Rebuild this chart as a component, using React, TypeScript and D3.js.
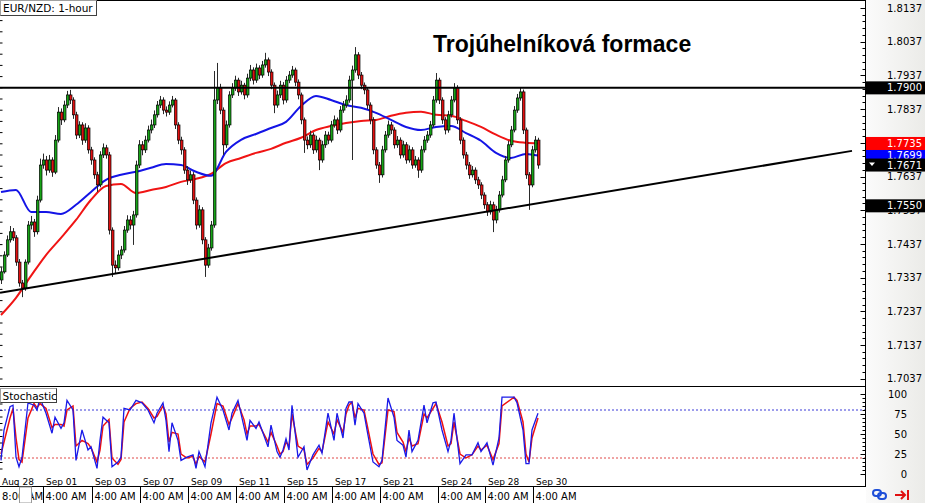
import React from "react";
import * as d3 from "d3";

// ---------- DATA ----------
const firstOpen = 1.733;
const closes = [
  1.7354,1.7404,1.7449,1.7473,1.7455,1.7383,1.7321,1.7306,1.7383,1.7493,
  1.7502,1.7473,1.7567,1.7671,1.7686,1.7656,1.7686,1.7650,1.7745,1.7828,
  1.7805,1.7849,1.7879,1.7864,1.7820,1.7760,1.7790,1.7745,1.7781,1.7716,
  1.7686,1.7642,1.7612,1.7701,1.7722,1.7701,1.7478,1.7374,1.7366,1.7404,
  1.7419,1.7478,1.7508,1.7493,1.7523,1.7671,1.7731,1.7716,1.7745,1.7775,
  1.7790,1.7820,1.7849,1.7864,1.7834,1.7828,1.7849,1.7864,1.7790,1.7745,
  1.7716,1.7656,1.7627,1.7642,1.7567,1.7493,1.7538,1.7449,1.7374,1.7425,
  1.7493,1.7864,1.7900,1.7834,1.7731,1.7790,1.7879,1.7900,1.7923,1.7888,
  1.7908,1.7879,1.7929,1.7953,1.7923,1.7959,1.7938,1.7968,1.7983,1.7947,
  1.7908,1.7849,1.7879,1.7908,1.7864,1.7923,1.7938,1.7953,1.7917,1.7879,
  1.7805,1.7745,1.7731,1.7760,1.7716,1.7745,1.7686,1.7731,1.7760,1.7745,
  1.7790,1.7805,1.7775,1.7834,1.7849,1.7864,1.7923,1.7953,1.7998,1.7938,
  1.7908,1.7894,1.7849,1.7805,1.7716,1.7671,1.7642,1.7716,1.7760,1.7790,
  1.7775,1.7731,1.7745,1.7701,1.7731,1.7686,1.7716,1.7671,1.7686,1.7656,
  1.7716,1.7745,1.7760,1.7790,1.7864,1.7923,1.7864,1.7805,1.7775,1.7820,
  1.7864,1.7900,1.7805,1.7745,1.7701,1.7671,1.7642,1.7656,1.7627,1.7612,
  1.7582,1.7553,1.7532,1.7553,1.7508,1.7538,1.7582,1.7627,1.7686,1.7731,
  1.7775,1.7834,1.7870,1.7888,1.7775,1.7642,1.7612,1.7716,1.7745,1.7671,
];
const highs = [
  1.7368,1.7415,1.7462,1.7490,1.7484,1.7463,1.7392,1.7330,1.7391,1.7505,
  1.7520,1.7511,1.7580,1.7690,1.7705,1.7698,1.7701,1.7694,1.7760,1.7843,
  1.7839,1.7862,1.7891,1.7894,1.7872,1.7829,1.7801,1.7798,1.7795,1.7789,
  1.7725,1.7694,1.7651,1.7712,1.7735,1.7731,1.7710,1.7486,1.7388,1.7418,
  1.7431,1.7490,1.7522,1.7520,1.7535,1.7684,1.7745,1.7742,1.7758,1.7788,
  1.7806,1.7833,1.7861,1.7876,1.7872,1.7845,1.7860,1.7876,1.7870,1.7798,
  1.7755,1.7724,1.7668,1.7655,1.7650,1.7575,1.7552,1.7546,1.7457,1.7437,
  1.7505,1.7950,1.7974,1.7912,1.7842,1.7803,1.7890,1.7914,1.7936,1.7930,
  1.7921,1.7915,1.7942,1.7968,1.7961,1.7972,1.7967,1.7980,1.8004,1.7990,
  1.7955,1.7916,1.7892,1.7921,1.7917,1.7935,1.7950,1.7965,1.7960,1.7925,
  1.7886,1.7812,1.7756,1.7773,1.7768,1.7758,1.7752,1.7743,1.7772,1.7770,
  1.7802,1.7818,1.7812,1.7846,1.7861,1.7878,1.7936,1.7966,1.8021,1.8006,
  1.7947,1.7916,1.7902,1.7857,1.7813,1.7724,1.7680,1.7728,1.7772,1.7803,
  1.7799,1.7783,1.7757,1.7753,1.7743,1.7739,1.7729,1.7724,1.7698,1.7694,
  1.7728,1.7757,1.7772,1.7802,1.7876,1.7944,1.7930,1.7872,1.7813,1.7832,
  1.7876,1.7914,1.7908,1.7813,1.7753,1.7710,1.7680,1.7668,1.7664,1.7636,
  1.7620,1.7590,1.7561,1.7565,1.7562,1.7550,1.7594,1.7639,1.7698,1.7743,
  1.7787,1.7846,1.7882,1.7900,1.7895,1.7782,1.7650,1.7728,1.7757,1.7752,
];
const lows = [
  1.7318,1.7349,1.7398,1.7441,1.7446,1.7372,1.7310,1.7279,1.7298,1.7376,
  1.7480,1.7458,1.7465,1.7560,1.7660,1.7640,1.7648,1.7636,1.7644,1.7738,
  1.7790,1.7798,1.7840,1.7852,1.7808,1.7748,1.7751,1.7731,1.7737,1.7705,
  1.7672,1.7630,1.7591,1.7605,1.7692,1.7690,1.7465,1.7339,1.7350,1.7358,
  1.7392,1.7411,1.7470,1.7480,1.7434,1.7515,1.7662,1.7700,1.7707,1.7738,
  1.7765,1.7781,1.7812,1.7840,1.7822,1.7815,1.7820,1.7842,1.7778,1.7733,
  1.7702,1.7645,1.7612,1.7618,1.7555,1.7480,1.7485,1.7436,1.7339,1.7366,
  1.7417,1.7485,1.7852,1.7822,1.7701,1.7722,1.7782,1.7870,1.7891,1.7876,
  1.7880,1.7866,1.7871,1.7920,1.7910,1.7915,1.7926,1.7930,1.7960,1.7935,
  1.7896,1.7825,1.7841,1.7870,1.7851,1.7856,1.7914,1.7930,1.7905,1.7866,
  1.7792,1.7707,1.7718,1.7722,1.7704,1.7708,1.7656,1.7678,1.7722,1.7733,
  1.7738,1.7782,1.7763,1.7768,1.7826,1.7841,1.7856,1.7686,1.7945,1.7926,
  1.7896,1.7881,1.7837,1.7792,1.7703,1.7660,1.7618,1.7634,1.7708,1.7752,
  1.7763,1.7720,1.7722,1.7690,1.7693,1.7675,1.7678,1.7660,1.7663,1.7633,
  1.7648,1.7708,1.7737,1.7752,1.7783,1.7856,1.7852,1.7793,1.7762,1.7767,
  1.7812,1.7857,1.7793,1.7733,1.7690,1.7658,1.7630,1.7634,1.7615,1.7600,
  1.7570,1.7541,1.7520,1.7524,1.7472,1.7498,1.7530,1.7575,1.7620,1.7678,
  1.7724,1.7768,1.7826,1.7862,1.7763,1.7630,1.7538,1.7605,1.7708,1.7660,
];

const maBars = [0,5,10,15,20,25,30,35,40,45,50,55,60,65,70,75,80,85,90,95,100,105,110,115,120,125,130,135,140,145,150,155,160,165,170,175,179];
const maBlue = [1.7591,1.7597,1.7532,1.7532,1.7526,1.7553,1.7591,1.7627,1.7642,1.7651,1.7663,1.7674,1.7671,1.7651,1.7639,1.7710,1.7746,1.7763,1.7781,1.7799,1.7846,1.7876,1.7864,1.7849,1.7841,1.7826,1.7805,1.7784,1.7775,1.7784,1.7787,1.7766,1.7743,1.7707,1.7692,1.7704,1.7699];
const maRed = [1.7226,1.7277,1.7342,1.7404,1.7455,1.7508,1.7568,1.7609,1.7615,1.7588,1.7597,1.7606,1.7621,1.7630,1.7645,1.7677,1.7692,1.7707,1.7719,1.7737,1.7752,1.7775,1.7787,1.7796,1.7802,1.7805,1.7817,1.7826,1.7829,1.7820,1.7817,1.7802,1.7784,1.7761,1.7743,1.7737,1.7735];

const stochBars = [0,1,3,4,5,6,7,9,11,12,13,15,17,18,20,21,22,24,25,27,29,30,32,33,34,36,37,39,40,41,43,45,47,49,51,52,54,55,56,57,59,60,62,64,65,66,68,70,72,74,76,77,79,81,82,83,85,86,89,90,92,93,94,95,96,97,99,101,102,104,106,107,109,111,112,114,115,116,117,118,119,121,122,124,126,127,129,131,132,134,135,136,137,139,141,142,144,145,147,149,150,151,153,155,157,159,160,162,164,166,167,171,172,174,175,176,177,179];
const stochMain = [17,55,84,86,21,9,21,89,86,80,95,76,51,71,57,64,92,80,17,55,30,34,7,42,71,64,9,15,21,82,80,92,89,80,64,76,89,67,28,64,42,17,21,24,7,28,9,64,96,80,55,76,92,59,42,67,57,65,34,61,28,21,30,44,30,86,21,34,5,24,36,26,76,42,76,45,82,90,90,61,88,76,55,15,9,17,95,71,42,36,21,55,28,42,86,64,89,90,55,28,42,76,13,24,24,39,28,39,11,45,96,96,89,55,13,13,55,76];
const stochSignal = [25,40,70,82,45,18,15,70,88,83,88,82,58,62,62,60,80,85,35,42,38,33,15,30,60,68,20,12,18,65,82,88,90,82,70,72,85,75,40,52,50,25,20,22,12,22,15,50,88,85,62,70,88,68,50,60,60,62,40,52,35,25,28,40,35,75,35,30,12,20,32,28,65,50,68,52,75,86,90,70,82,80,62,25,12,14,80,78,52,40,28,45,35,38,75,70,82,88,65,35,38,65,25,20,24,35,30,36,18,38,85,96,92,65,25,15,45,70];

const priceTicks = [1.8137,1.8037,1.7937,1.7837,1.7737,1.7637,1.7537,1.7437,1.7337,1.7237,1.7137,1.7037];
const stochTicks = [100,75,50,25,0];
const resistance = 1.79;
const trendLine = [{ bar: -0.33, price: 1.7292 }, { bar: 283.67, price: 1.7713 }];
const dateBars = [14,30.33,46.33,62.33,78.33,94.33,110.33,126.33,145.67,161.33,177.33];
const dateLabels = ["Sep 01","Sep 03","Sep 07","Sep 09","Sep 11","Sep 15","Sep 17","Sep 21","Sep 24","Sep 28","Sep 30"];
const firstDate = "Aug 28";
const timeLabel = "4:00 AM";
const firstTime = "8:00 AM";
const priceMarkers = [
  { price: 1.7699, label: "1.7699", bg: "#0000ff" },
  { price: 1.7735, label: "1.7735", bg: "#ff0000" },
  { price: 1.79, label: "1.7900", bg: "#000000" },
  { price: 1.7671, label: "1.7671", bg: "#000000", arrow: true },
  { price: 1.755, label: "1.7550", bg: "#000000" },
];

const FONT = "'DejaVu Sans', Verdana, sans-serif";
const W = 925, H = 503, AX = 865.5;

export default function App() {
  const x = d3.scaleLinear().domain([0, 179]).range([1, 538]);
  const y = d3.scaleLinear().domain([1.7037, 1.8137]).range([378.7, 8]);
  const ys = d3.scaleLinear().domain([0, 100]).range([474, 394]);

  const candles = closes.map((c, i) => ({ i, o: i === 0 ? firstOpen : closes[i - 1], c, h: highs[i], l: lows[i] }));
  const maLine = d3.line<[number, number]>().x(d => x(d[0])).y(d => y(d[1])).curve(d3.curveMonotoneX);
  const sLine = d3.line<[number, number]>().x(d => x(d[0])).y(d => ys(d[1]));
  const minorPrice = d3.range(0, 56).map(k => 1.7037 + k * 0.002);
  const minorStoch = d3.range(0, 101, 5);
  const leftTicks = d3.range(9.4, 384, 11.2);
  const leftTicksS = d3.range(404, 472, 6.5);

  // a label fully covered by a marker box is not drawn (as in the terminal)
  const hidden = (p: number) => priceMarkers.some(m => Math.abs(y(m.price) - y(p)) < 3);

  return (
    <div style={{ position: "absolute", left: 0, top: 0 }}>
      <svg width={W} height={H} style={{ display: "block", background: "#fff" }}>
        <defs>
          <linearGradient id="rp" x1="0" x2="1" y1="0" y2="0">
            <stop offset="0" stopColor="#fbfbfb" />
            <stop offset="1" stopColor="#ebebe8" />
          </linearGradient>
        </defs>
        <rect x={0} y={0} width={W} height={H} fill="#fff" />
        <rect x={866} y={0} width={W - 866} height={H} fill="url(#rp)" />

        {/* left edge small ticks */}
        {leftTicks.map((t, k) => <line key={"lt" + k} x1={0} x2={2.5} y1={t} y2={t} stroke="#000" strokeWidth={1} />)}
        {leftTicksS.map((t, k) => <line key={"lts" + k} x1={0} x2={2.5} y1={t} y2={t} stroke="#000" strokeWidth={1} />)}

        {/* frame */}
        <line x1={0} x2={866} y1={0.5} y2={0.5} stroke="#000" />
        <line x1={0} x2={866} y1={386.5} y2={386.5} stroke="#000" />
        <line x1={0} x2={866} y1={486.5} y2={486.5} stroke="#000" />
        <line x1={AX} x2={AX} y1={0} y2={486} stroke="#000" />

        {/* moving averages */}
        <path d={maLine(maBars.map((b, k) => [b, maRed[k]]) as any) || ""} fill="none" stroke="#f01414" strokeWidth={2} />
        <path d={maLine(maBars.map((b, k) => [b, maBlue[k]]) as any) || ""} fill="none" stroke="#1414e6" strokeWidth={2} />

        {/* candles */}
        <g>
          {candles.map(d => {
            const cx = Math.round(x(d.i));
            const up = d.c >= d.o;
            const top = y(Math.max(d.o, d.c));
            const bot = y(Math.min(d.o, d.c));
            return (
              <g key={"c" + d.i}>
                <line x1={cx + 0.5} x2={cx + 0.5} y1={y(d.h)} y2={y(d.l)} stroke="#2a2a2a" strokeWidth={1} />
                <rect x={cx - 0.6} y={top} width={2.6} height={Math.max(1.2, bot - top)} fill={up ? "#17a317" : "#e01010"} stroke="#000" strokeWidth={0.7} />
              </g>
            );
          })}
        </g>

        {/* horizontal resistance & trend line */}
        <line x1={0} x2={866} y1={y(resistance)} y2={y(resistance)} stroke="#000" strokeWidth={2} />
        <line x1={x(trendLine[0].bar)} x2={x(trendLine[1].bar)} y1={y(trendLine[0].price)} y2={y(trendLine[1].price)} stroke="#000" strokeWidth={2} />

        {/* title */}
        <text x={433} y={52} fontFamily="'Liberation Sans', Arial, sans-serif" fontWeight="bold" fontSize={23} fill="#000">Trojúhelníková formace</text>

        {/* symbol box */}
        <rect x={0.5} y={0.5} width={96} height={15} fill="#fff" stroke="#a0a0a0" />
        <line x1={96.5} x2={96.5} y1={0.5} y2={16} stroke="#404040" />
        <line x1={0.5} x2={97} y1={15.5} y2={15.5} stroke="#404040" />
        <text x={3} y={12.3} fontFamily={FONT} fontSize={10.5} fill="#000">EUR/NZD: 1-hour</text>

        {/* price axis ticks */}
        {minorPrice.map((p, k) => <line key={"mp" + k} x1={AX - 3} x2={AX} y1={Math.round(y(p)) + 0.5} y2={Math.round(y(p)) + 0.5} stroke="#000" />)}
        {priceTicks.map((p, k) => <line key={"pt" + k} x1={AX - 5} x2={AX + 0.5} y1={Math.round(y(p)) + 0.5} y2={Math.round(y(p)) + 0.5} stroke="#000" />)}
        {priceTicks.filter(p => !hidden(p)).map((p, k) => <text key={"pl" + k} x={922} y={y(p) + 3.6} textAnchor="end" fontFamily={FONT} fontSize={10} fill="#000">{p.toFixed(4)}</text>)}

        {/* price markers */}
        {priceMarkers.map((m, k) => (
          <g key={"pm" + k}>
            <rect x={866} y={y(m.price) - 6.5} width={W - 866} height={13} fill={m.bg} />
            {m.arrow && <path d={`M869,${y(m.price) - 2.5} L875,${y(m.price) - 2.5} L872,${y(m.price) + 1} Z`} fill="#fff" />}
            <text x={922} y={y(m.price) + 3.6} textAnchor="end" fontFamily={FONT} fontSize={10} fill="#fff">{m.label}</text>
          </g>
        ))}

        {/* stochastic panel */}
        <line x1={0} x2={866} y1={ys(80)} y2={ys(80)} stroke="#3b3bd8" strokeWidth={1} strokeDasharray="2,2" />
        <line x1={0} x2={866} y1={ys(20)} y2={ys(20)} stroke="#e04848" strokeWidth={1} strokeDasharray="2,2" />
        <path d={sLine(stochBars.map((b, k) => [b, stochSignal[k]]) as any) || ""} fill="none" stroke="#ee1111" strokeWidth={1.5} />
        <path d={sLine(stochBars.map((b, k) => [b, stochMain[k]]) as any) || ""} fill="none" stroke="#1a1ae8" strokeWidth={1.3} />
        <rect x={0.5} y={388.5} width={56} height={14} fill="#fff" stroke="#a0a0a0" />
        <line x1={56.5} x2={56.5} y1={388.5} y2={403} stroke="#404040" />
        <line x1={0.5} x2={57} y1={402.5} y2={402.5} stroke="#404040" />
        <text x={2.5} y={399.5} fontFamily={FONT} fontSize={10.5} fill="#000">Stochastic</text>
        <line x1={AX} x2={AX} y1={386} y2={486} stroke="#000" />
        {minorStoch.map((v, k) => <line key={"ms" + k} x1={AX - 3} x2={AX} y1={Math.round(ys(v)) + 0.5} y2={Math.round(ys(v)) + 0.5} stroke="#000" />)}
        {stochTicks.map((v, k) => <line key={"st" + k} x1={AX - 5} x2={AX} y1={Math.round(ys(v)) + 0.5} y2={Math.round(ys(v)) + 0.5} stroke="#000" />)}
        {stochTicks.map((v, k) => <text key={"sl" + k} x={907} y={ys(v) + 3.6} textAnchor="end" fontFamily={FONT} fontSize={10} fill="#000">{v}</text>)}

        {/* date row */}
        <text x={x(0) + 1} y={484.5} fontFamily={FONT} fontSize={9} fill="#000">{firstDate}</text>
        {dateBars.map((b, k) => <text key={"dl" + k} x={x(b) + 3} y={484.5} fontFamily={FONT} fontSize={9} fill="#000">{dateLabels[k]}</text>)}

        {/* time row */}
        <text x={2} y={500} fontFamily={FONT} fontSize={10} fill="#000">{firstTime}</text>
        <rect x={19.5} y={487} width={12} height={16} fill="#fff" stroke="#9a9a9a" />
        {dateBars.map((b, k) => (
          <g key={"tl" + k}>
            <line x1={Math.round(x(b)) + 0.5} x2={Math.round(x(b)) + 0.5} y1={486} y2={H} stroke="#000" />
            <text x={x(b) + 2.5} y={500} fontFamily={FONT} fontSize={10} fill="#000">{timeLabel}</text>
          </g>
        ))}

        {/* corner icons */}
        <g fill="none" stroke="#1f4fd8" strokeWidth={2}>
          <rect x={873} y={490} width={8} height={6} rx={3} />
          <rect x={878} y={493} width={8} height={6} rx={3} />
        </g>
        <g stroke="#e01010" strokeWidth={2} fill="none">
          <line x1={895} x2={905} y1={495} y2={495} />
          <path d="M901,491 L905,495 L901,499" />
          <line x1={908} x2={908} y1={490} y2={500} />
        </g>
      </svg>
    </div>
  );
}
